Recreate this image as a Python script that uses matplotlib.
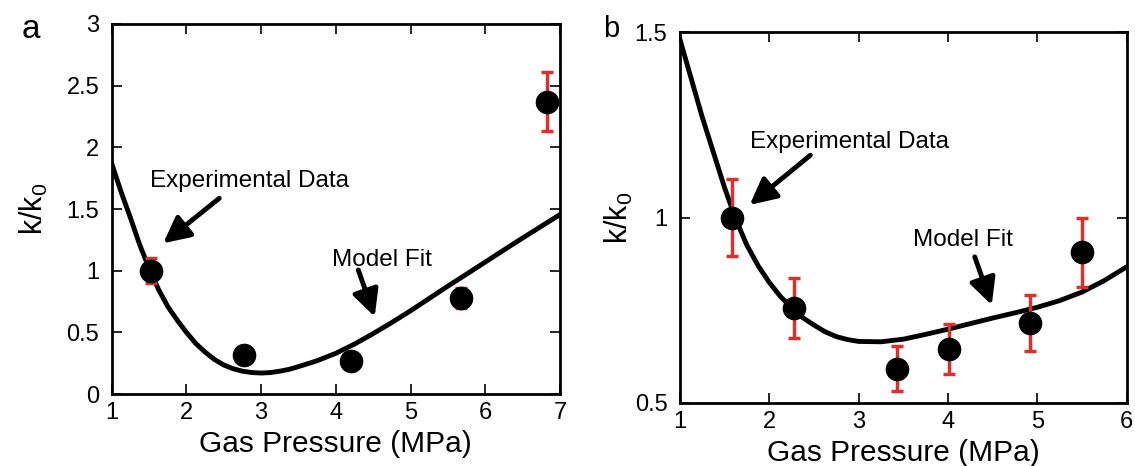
import matplotlib
matplotlib.use("Agg")
import matplotlib.pyplot as plt

plt.rcParams['font.family'] = ['Liberation Sans', 'DejaVu Sans']
plt.rcParams['mathtext.fontset'] = 'custom'
plt.rcParams['mathtext.rm'] = 'Liberation Sans'

# Panel a data
a_px = [1.52, 2.77, 4.20, 5.67, 6.82]
a_py = [1.00, 0.32, 0.27, 0.78, 2.37]
a_err = [0.10, 0.0, 0.0, 0.08, 0.24]
a_fit_x = [1.0, 1.125, 1.25, 1.375, 1.5, 1.625, 1.75, 1.875, 2.0, 2.125, 2.25, 2.375,
           2.5, 2.625, 2.75, 2.875, 3.0, 3.125, 3.25, 3.375, 3.5, 3.75, 4.0,
           4.25, 4.5, 4.75, 5.0, 5.25, 5.5, 5.75, 6.0, 6.25, 6.5, 6.75, 7.0]
a_fit_y = [1.87, 1.64, 1.43, 1.21, 1.02, 0.85, 0.71, 0.60, 0.50, 0.41, 0.34, 0.28,
           0.235, 0.205, 0.185, 0.174, 0.17, 0.174, 0.185, 0.20, 0.222, 0.27, 0.33,
           0.405, 0.49, 0.58, 0.675, 0.775, 0.875, 0.972, 1.07, 1.168, 1.265, 1.36, 1.455]

# Panel b data
b_px = [1.58, 2.28, 3.43, 4.01, 4.92, 5.50]
b_py = [1.00, 0.756, 0.592, 0.645, 0.715, 0.907]
b_err = [0.103, 0.08, 0.061, 0.067, 0.075, 0.093]
b_fit_x = [1.0, 1.125, 1.25, 1.375, 1.5, 1.625, 1.75, 1.875, 2.0, 2.125, 2.25, 2.375,
           2.5, 2.625, 2.75, 2.875, 3.0, 3.25, 3.5, 3.75, 4.0,
           4.25, 4.5, 4.75, 5.0, 5.25, 5.5, 5.75, 6.0]
b_fit_y = [1.48, 1.375, 1.27, 1.175, 1.08, 0.995, 0.925, 0.87, 0.825, 0.787, 0.757, 0.73,
           0.71, 0.692, 0.679, 0.671, 0.666, 0.665, 0.672, 0.685, 0.699,
           0.714, 0.729, 0.743, 0.758, 0.776, 0.799, 0.83, 0.867]

RED = '#d8322f'

fig = plt.figure(figsize=(11.35, 4.66), dpi=100)
ax_a = fig.add_axes([0.0984, 0.1545, 0.395, 0.794])
ax_b = fig.add_axes([0.5991, 0.1352, 0.3935, 0.796])


def style(ax, ylab_x):
    for s in ax.spines.values():
        s.set_linewidth(2.0)
    ax.tick_params(direction='in', length=7, width=1.2, top=True, right=True,
                   labelsize=17)
    ax.tick_params(axis='x', pad=6)
    ax.tick_params(axis='y', pad=9)
    ax.set_xlabel('Gas Pressure (MPa)', fontsize=21.5, labelpad=4)
    ax.set_ylabel(r'k/k$_\mathregular{0}$', fontsize=22)
    ax.yaxis.set_label_coords(ylab_x, 0.5)


def arrow(ax, start, end):
    ax.annotate('', xy=end, xytext=start,
                arrowprops=dict(arrowstyle='-|>,head_length=0.8,head_width=0.4',
                                mutation_scale=20, color='black', lw=3.5,
                                shrinkA=0, shrinkB=0))


# Panel a
ax_a.plot(a_fit_x, a_fit_y, color='black', lw=3.5, zorder=2,
          solid_joinstyle='round', solid_capstyle='round')
ax_a.errorbar(a_px, a_py, yerr=a_err, fmt='none', ecolor=RED, elinewidth=2.5,
              capsize=4, capthick=2.5, zorder=3)
ax_a.plot(a_px, a_py, 'o', color='black', markersize=16, zorder=4)
ax_a.set_xlim(1, 7)
ax_a.set_ylim(0, 3)
ax_a.set_xticks([1, 2, 3, 4, 5, 6, 7])
ax_a.set_yticks([0, 0.5, 1, 1.5, 2, 2.5, 3])
ax_a.set_yticklabels(['0', '0.5', '1', '1.5', '2', '2.5', '3'])
style(ax_a, -0.138)
ax_a.text(1.51, 1.727, 'Experimental Data', fontsize=17.5, va='center', ha='left')
arrow(ax_a, (2.44, 1.587), (1.69, 1.222))
ax_a.text(3.95, 1.087, 'Model Fit', fontsize=17.5, va='center', ha='left')
arrow(ax_a, (4.30, 1.006), (4.52, 0.627))
fig.text(31 / 1135, 1 - 29 / 466, 'a', fontsize=24, va='center', ha='center')

# Panel b
ax_b.plot(b_fit_x, b_fit_y, color='black', lw=3.5, zorder=2,
          solid_joinstyle='round', solid_capstyle='round')
ax_b.errorbar(b_px, b_py, yerr=b_err, fmt='none', ecolor=RED, elinewidth=2.5,
              capsize=4, capthick=2.5, zorder=3)
ax_b.plot(b_px, b_py, 'o', color='black', markersize=16, zorder=4)
ax_b.set_xlim(1, 6)
ax_b.set_ylim(0.5, 1.5)
ax_b.set_xticks([1, 2, 3, 4, 5, 6])
ax_b.set_yticks([0.5, 1, 1.5])
ax_b.set_yticklabels(['0.5', '1', '1.5'])
style(ax_b, -0.1007)
ax_b.text(1.78, 1.203, 'Experimental Data', fontsize=17.5, va='center', ha='left')
arrow(ax_b, (2.46, 1.168), (1.78, 1.034))
ax_b.text(3.605, 0.939, 'Model Fit', fontsize=17.5, va='center', ha='left')
arrow(ax_b, (4.30, 0.894), (4.49, 0.764))
fig.text(611 / 1135, 1 - 29 / 466, 'b', fontsize=21, va='center', ha='center')

fig.savefig('out.png', dpi=100)
